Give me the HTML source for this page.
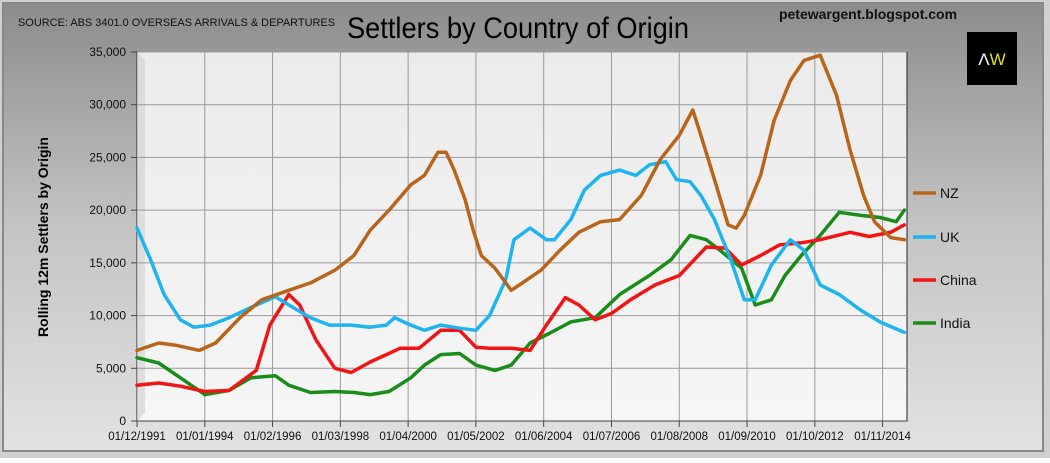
<!DOCTYPE html>
<html><head><meta charset="utf-8"><style>
body{margin:0;width:1050px;height:458px;overflow:hidden;font-family:"Liberation Sans",sans-serif}
</style></head><body>
<svg width="1050" height="458" xmlns="http://www.w3.org/2000/svg">
<defs>
<linearGradient id="bg" x1="0" y1="0" x2="0" y2="1"><stop offset="0" stop-color="#8c8c8c"/><stop offset="0.5" stop-color="#c4c4c4"/><stop offset="1" stop-color="#e2e2e2"/></linearGradient>
<linearGradient id="pl" x1="0" y1="0" x2="0" y2="1"><stop offset="0" stop-color="#ebebeb"/><stop offset="1" stop-color="#f6f6f6"/></linearGradient>
</defs>
<rect width="1050" height="458" fill="#d0d0d0"/>
<rect x="3" y="3" width="1040" height="448" fill="url(#bg)" stroke="#888" stroke-width="2"/>
<rect x="137" y="52" width="770" height="369" fill="url(#pl)" stroke="#222" stroke-width="1"/>
<polygon points="137,52 145,60 145,413 137,421" fill="#d4d4d4" opacity="0.7"/>
<g id="grid"></g>
<g id="axes" font-size="12" fill="#111"></g>
<g id="series"></g>
<text x="18" y="26" font-size="11" fill="#111" textLength="317" lengthAdjust="spacingAndGlyphs">SOURCE: ABS 3401.0 OVERSEAS ARRIVALS &amp; DEPARTURES</text>
<text x="518" y="38" font-size="30" text-anchor="middle" fill="#000" textLength="342" lengthAdjust="spacingAndGlyphs">Settlers by Country of Origin</text>
<text x="868" y="19" font-size="14" font-weight="bold" text-anchor="middle" fill="#111">petewargent.blogspot.com</text>
<g><rect x="967" y="32" width="50" height="53" fill="#000"/><text x="992" y="65" font-size="17" text-anchor="middle"><tspan fill="#fff">Λ</tspan><tspan fill="#e6e020">W</tspan></text></g>
<text transform="translate(48,237) rotate(-90)" font-size="14" font-weight="bold" text-anchor="middle" fill="#000">Rolling 12m Settlers by Origin</text>
<g id="legend" font-size="14" fill="#111"></g>
</svg>
<script>
const nzMonths=[0,8,14,23,29,38,46,56,64,73,80,86,93,101,106,111,114,117,121,124,127,132,138,141,149,156,163,171,178,186,193,200,205,208,213,218,221,224,230,235,241,246,252,258,263,268,272,278,283];
const nzValues=[6700,7400,7200,6700,7400,9800,11500,12400,13100,14300,15700,18100,20000,22400,23300,25500,25500,23800,21000,18100,15700,14500,12400,12900,14300,16200,17900,18900,19100,21400,24800,27100,29500,27100,22900,18600,18300,19500,23300,28500,32300,34200,34700,30900,25700,21400,18900,17400,17200];
const ukMonths=[0,5,10,16,21,27,34,44,51,56,64,71,79,86,92,95,101,106,112,119,125,130,136,139,145,151,154,160,165,171,178,184,189,195,199,204,208,213,219,224,228,234,241,246,252,259,267,274,283];
const ukValues=[18300,15300,12000,9600,8900,9100,9800,11000,11800,11000,9800,9100,9100,8900,9100,9800,9100,8600,9100,8800,8600,10000,13400,17200,18300,17200,17200,19100,21900,23300,23800,23300,24300,24600,22900,22700,21400,19100,15300,11500,11500,14800,17200,16200,12900,12000,10500,9400,8400];
const chinaMonths=[0,8,16,25,34,44,49,56,60,66,73,79,86,92,97,104,112,119,125,130,138,145,151,158,163,169,175,182,191,200,210,217,223,230,237,245,252,263,270,278,283];
const chinaValues=[3400,3600,3300,2800,2900,4800,9100,12000,11000,7700,5000,4600,5600,6300,6900,6900,8600,8600,7000,6900,6900,6700,9100,11700,11000,9600,10200,11500,12900,13800,16500,16400,14800,15700,16700,16900,17200,17900,17500,17900,18600];
const indiaMonths=[0,8,16,25,34,42,51,56,64,73,80,86,93,101,106,112,119,125,132,138,145,152,160,169,178,189,197,204,210,215,223,228,234,239,245,252,259,267,274,280,283];
const indiaValues=[6000,5500,4100,2500,2900,4100,4300,3400,2700,2800,2700,2500,2800,4100,5300,6300,6400,5300,4800,5300,7400,8300,9400,9800,12000,13800,15300,17600,17200,16200,14500,11000,11500,13800,15700,17600,19800,19500,19300,18900,20000];
const yTicks=[0,5000,10000,15000,20000,25000,30000,35000];
const xTickLabels=["01/12/1991","01/01/1994","01/02/1996","01/03/1998","01/04/2000","01/05/2002","01/06/2004","01/07/2006","01/08/2008","01/09/2010","01/10/2012","01/11/2014"];
const xTickMonths=[0,25,50,75,100,125,150,175,200,225,250,275];
const seriesNames=["NZ","UK","China","India"];
const seriesColors=["#b8651b","#1eb4f0","#f01414","#1a8c1a"];

const NS="http://www.w3.org/2000/svg";
const X=m=>137+m*770/284;
const Y=v=>421-v*369/35000;
function mk(t,a,p){const e=document.createElementNS(NS,t);for(const k in a)e.setAttribute(k,a[k]);p.appendChild(e);return e;}
const grid=document.getElementById('grid'),axes=document.getElementById('axes'),ser=document.getElementById('series'),leg=document.getElementById('legend');
yTicks.forEach(v=>{
  if(v>0){const g=mk('line',{x1:137,x2:907,y1:Y(v),y2:Y(v),stroke:'#9a9a9a','stroke-width':1},grid);
  
  }
  mk('line',{x1:131,x2:137,y1:Y(v),y2:Y(v),stroke:'#444'},axes);
  const t=mk('text',{x:126,y:Y(v)+4,'text-anchor':'end'},axes);t.textContent=v.toLocaleString('en-US');
  
  
});
xTickMonths.forEach((m,i)=>{
  if(m>0){const g=mk('line',{x1:X(m),x2:X(m),y1:52,y2:421,stroke:'#9a9a9a','stroke-width':1},grid);
  
  }
  mk('line',{x1:X(m),x2:X(m),y1:421,y2:427,stroke:'#444'},axes);
  const t=mk('text',{x:X(m),y:440,'text-anchor':'middle','font-size':11.5},axes);t.textContent=xTickLabels[i];
  
  
});
mk('line',{x1:137,x2:907,y1:421,y2:421,stroke:'#444'},axes);
const data=[[nzMonths,nzValues],[ukMonths,ukValues],[chinaMonths,chinaValues],[indiaMonths,indiaValues]];
[3,2,1,0].forEach(i=>{
  const [ms,vs]=data[i];
  const p=mk('polyline',{points:ms.map((m,j)=>X(m).toFixed(1)+','+Y(vs[j]).toFixed(1)).join(' '),fill:'none',stroke:seriesColors[i],'stroke-width':3.5,'stroke-linejoin':'round','stroke-linecap':'round'},ser);
  
  
});
const legY=[193,237,280,323];
seriesNames.forEach((n,i)=>{
  const g=mk('g',{},leg);
  
  
  mk('line',{x1:913,x2:936,y1:legY[i],y2:legY[i],stroke:seriesColors[i],'stroke-width':3.5},g);
  const t=mk('text',{x:940,y:legY[i]+5},g);t.textContent=n;
});
</script>
</body></html>
